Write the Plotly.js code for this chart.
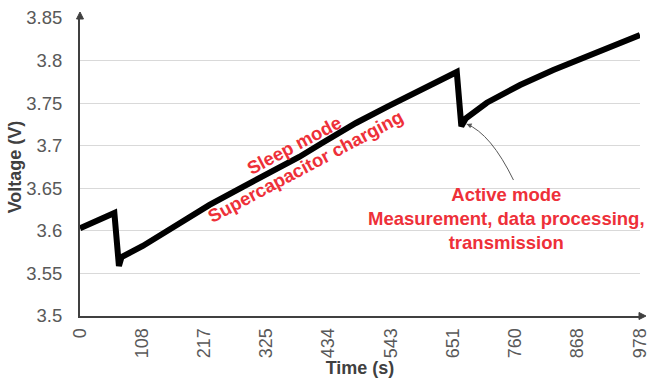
<!DOCTYPE html>
<html>
<head>
<meta charset="utf-8">
<script src="https://cdn.plot.ly/plotly-3.0.1.min.js"></script>
<style>html,body{margin:0;padding:0;background:#fff;}#chart{width:650px;height:379px;}</style>
</head>
<body>
<div id="chart"></div>
<script>
// Time (s) and voltage (V)
var timeSec = [0, 30, 60, 68, 72.6, 109.6, 168.8, 226.2, 283.7, 342.8, 382.8, 422.9, 482.0, 539.5, 596.9, 658, 666, 674, 710.5, 768.6, 826.6, 884.5, 942.7, 978];
var voltage = [3.603, 3.612, 3.621, 3.5587, 3.5693, 3.5822, 3.6069, 3.6304, 3.6515, 3.6715, 3.6868, 3.7032, 3.7267, 3.7467, 3.7666, 3.7866, 3.723, 3.7322, 3.7505, 3.7713, 3.7889, 3.8046, 3.8203, 3.830];

var xTickVals = [0, 108, 217, 325, 434, 543, 651, 760, 868, 978];
var xTickText = ['0', '108', '217', '325', '434', '543', '651', '760', '868', '978'];
var yTickVals = [3.5, 3.55, 3.6, 3.65, 3.7, 3.75, 3.8, 3.85];
var yTickText = ['3.5', '3.55', '3.6', '3.65', '3.7', '3.75', '3.8', '3.85'];

var sleepLabel = 'Sleep mode<br>Supercapacitor charging';
var activeLabel = 'Active mode<br>Measurement, data processing,<br>transmission';

var red = '#ee3039';
var axisColor = '#404040';
var fontFamily = '"Liberation Sans", Arial, sans-serif';

var trace = {
  x: timeSec, y: voltage, type: 'scatter', mode: 'lines',
  line: {color: '#000000', width: 6},
  hoverinfo: 'skip', showlegend: false
};

var layout = {
  width: 650, height: 379,
  margin: {l: 80, r: 10, t: 18, b: 63},
  paper_bgcolor: '#ffffff', plot_bgcolor: '#ffffff',
  font: {family: fontFamily, color: '#595959'},
  showlegend: false,
  xaxis: {
    range: [0, 978], tickvals: xTickVals, ticktext: xTickText,
    tickangle: -90, tickfont: {size: 18, color: '#595959'},
    showgrid: false, zeroline: false, showline: true,
    linecolor: axisColor, linewidth: 2, ticks: '', ticklabelstandoff: 3,
    ticklabeloverflow: 'allow',
    title: {text: '<b>Time (s)</b>', font: {size: 18, color: axisColor}, standoff: 1},
    automargin: false, fixedrange: true
  },
  yaxis: {
    range: [3.5, 3.85], tickvals: yTickVals, ticktext: yTickText,
    tickfont: {size: 18.5, color: '#595959'},
    showgrid: true, gridcolor: '#d9d9d9', gridwidth: 1,
    zeroline: false, showline: true, linecolor: axisColor, linewidth: 2,
    ticks: '', ticklabelstandoff: 12, ticklabeloverflow: 'allow',
    title: {text: '<b>Voltage (V)</b>', font: {size: 18, color: axisColor}, standoff: 0},
    automargin: false, fixedrange: true
  },
  shapes: [
    {type: 'path', xref: 'paper', yref: 'paper',
     path: 'M 0.9982 0.0117 L 1.0107 0 L 0.9982 -0.0117 Z',
     fillcolor: axisColor, line: {color: axisColor, width: 1}},
    {type: 'path', xref: 'paper', yref: 'paper',
     path: 'M -0.0062 0.9966 L 0 1.0201 L 0.0062 0.9966 Z',
     fillcolor: axisColor, line: {color: axisColor, width: 1}},
    // curved pointer from the active-mode label
    {type: 'path', xref: 'x', yref: 'y',
     path: 'M 757 3.6597 Q 717.8 3.7138 675.2 3.7255',
     line: {color: '#595959', width: 1}}
  ],
  annotations: [
    {xref: 'x', yref: 'y', x: 385, y: 3.688, text: '<b>' + sleepLabel.split('<br>').join('</b><br><b>') + '</b>',
     showarrow: false, textangle: -28, xanchor: 'center', yanchor: 'middle',
     font: {family: fontFamily, size: 18.5, color: red}},
    {xref: 'x', yref: 'y', x: 745, y: 3.6151, text: '<b>' + activeLabel.split('<br>').join('</b><br><b>') + '</b>',
     showarrow: false, xanchor: 'center', yanchor: 'middle', align: 'center',
     font: {family: fontFamily, size: 18.5, color: red}},
    {xref: 'x', yref: 'y', x: 675.2, y: 3.7255, text: '', showarrow: true,
     ax: 6, ay: 2.5, arrowhead: 2, arrowsize: 1, arrowwidth: 1, arrowcolor: '#595959'}
  ]
};

Plotly.newPlot('chart', [trace], layout, {staticPlot: true, displayModeBar: false});
</script>
</body>
</html>
